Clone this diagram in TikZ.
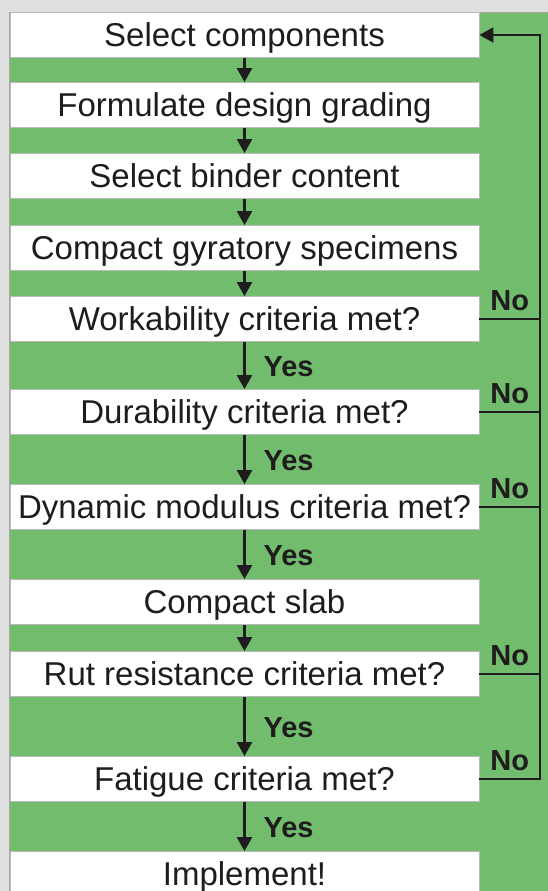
\documentclass[tikz,border=0pt]{standalone}
\usepackage{fontspec}
\setmainfont{Liberation Sans}
\usetikzlibrary{arrows.meta,positioning}
\definecolor{panel}{RGB}{114,188,110}
\definecolor{frame}{RGB}{224,224,224}
\definecolor{ink}{RGB}{30,28,28}
\tikzset{
  stepbox/.style={draw=gray!55, line width=0.8pt, fill=white, minimum width=469pt,
    minimum height=45pt, inner sep=0pt, text=ink, text height=23.6pt, text depth=0pt,
    font=\fontsize{33}{40}\selectfont},
  flow/.style={draw=ink, line width=2.2pt, -{Triangle[width=15pt,length=14pt]}},
  link/.style={draw=ink, line width=2.2pt},
  tag/.style={text=ink, inner sep=0pt, text height=21pt, text depth=0pt,
    font=\fontsize{29}{36}\selectfont\bfseries},
}
\begin{document}
\begin{tikzpicture}[x=1pt,y=-1pt]
	\clip (0,0) rectangle (548,891);
	\fill[frame] (0,0) rectangle (548,891);
	\filldraw[fill=panel, draw=gray!70, line width=0.8pt] (9.5,12.5) rectangle (560,900);
	
	\node[stepbox] (sel) at (244.5,35) {Select components};
	\node[stepbox] (form) at (244.5,105) {Formulate design grading};
	\node[stepbox] (binder) at (244.5,176) {Select binder content};
	\node[stepbox] (gyr) at (244.5,248) {Compact gyratory specimens};
	\node[stepbox] (work) at (244.5,319) {Workability criteria met?};
	\node[stepbox] (dur) at (244.5,412) {Durability criteria met?};
	\node[stepbox] (dyn) at (244.5,507) {Dynamic modulus criteria met?};
	\node[stepbox] (slab) at (244.5,602) {Compact slab};
	\node[stepbox] (rut) at (244.5,674) {Rut resistance criteria met?};
	\node[stepbox] (fat) at (244.5,779) {Fatigue criteria met?};
	\node[stepbox] (impl) at (244.5,874) {Implement!};
	
	\coordinate (loop) at (540,0);
	
	% preparation steps
	\draw[flow] (sel) -- (form);
	\draw[flow] (form) -- (binder);
	\draw[flow] (binder) -- (gyr);
	\draw[flow] (gyr) -- (work);
	\draw[flow] (slab) -- (rut);
	
	% criteria passed
	\draw[flow] (work) -- node[tag, right=18pt] {Yes} (dur);
	\draw[flow] (dur) -- node[tag, right=18pt] {Yes} (dyn);
	\draw[flow] (dyn) -- node[tag, right=18pt] {Yes} (slab);
	\draw[flow] (rut) -- node[tag, right=18pt] {Yes} (fat);
	\draw[flow] (fat) -- node[tag, right=18pt] {Yes} (impl);
	
	% criteria failed, back to the start
	\draw[link] (work.east) -- node[tag, above=7pt] {No} (work.east -| loop);
	\draw[link] (dur.east) -- node[tag, above=7pt] {No} (dur.east -| loop);
	\draw[link] (dyn.east) -- node[tag, above=7pt] {No} (dyn.east -| loop);
	\draw[link] (rut.east) -- node[tag, above=7pt] {No} (rut.east -| loop);
	\draw[flow] (fat.east) -- node[tag, above=7pt] {No} (fat.east -| loop) |- (sel.east);
\end{tikzpicture}
\end{document}
